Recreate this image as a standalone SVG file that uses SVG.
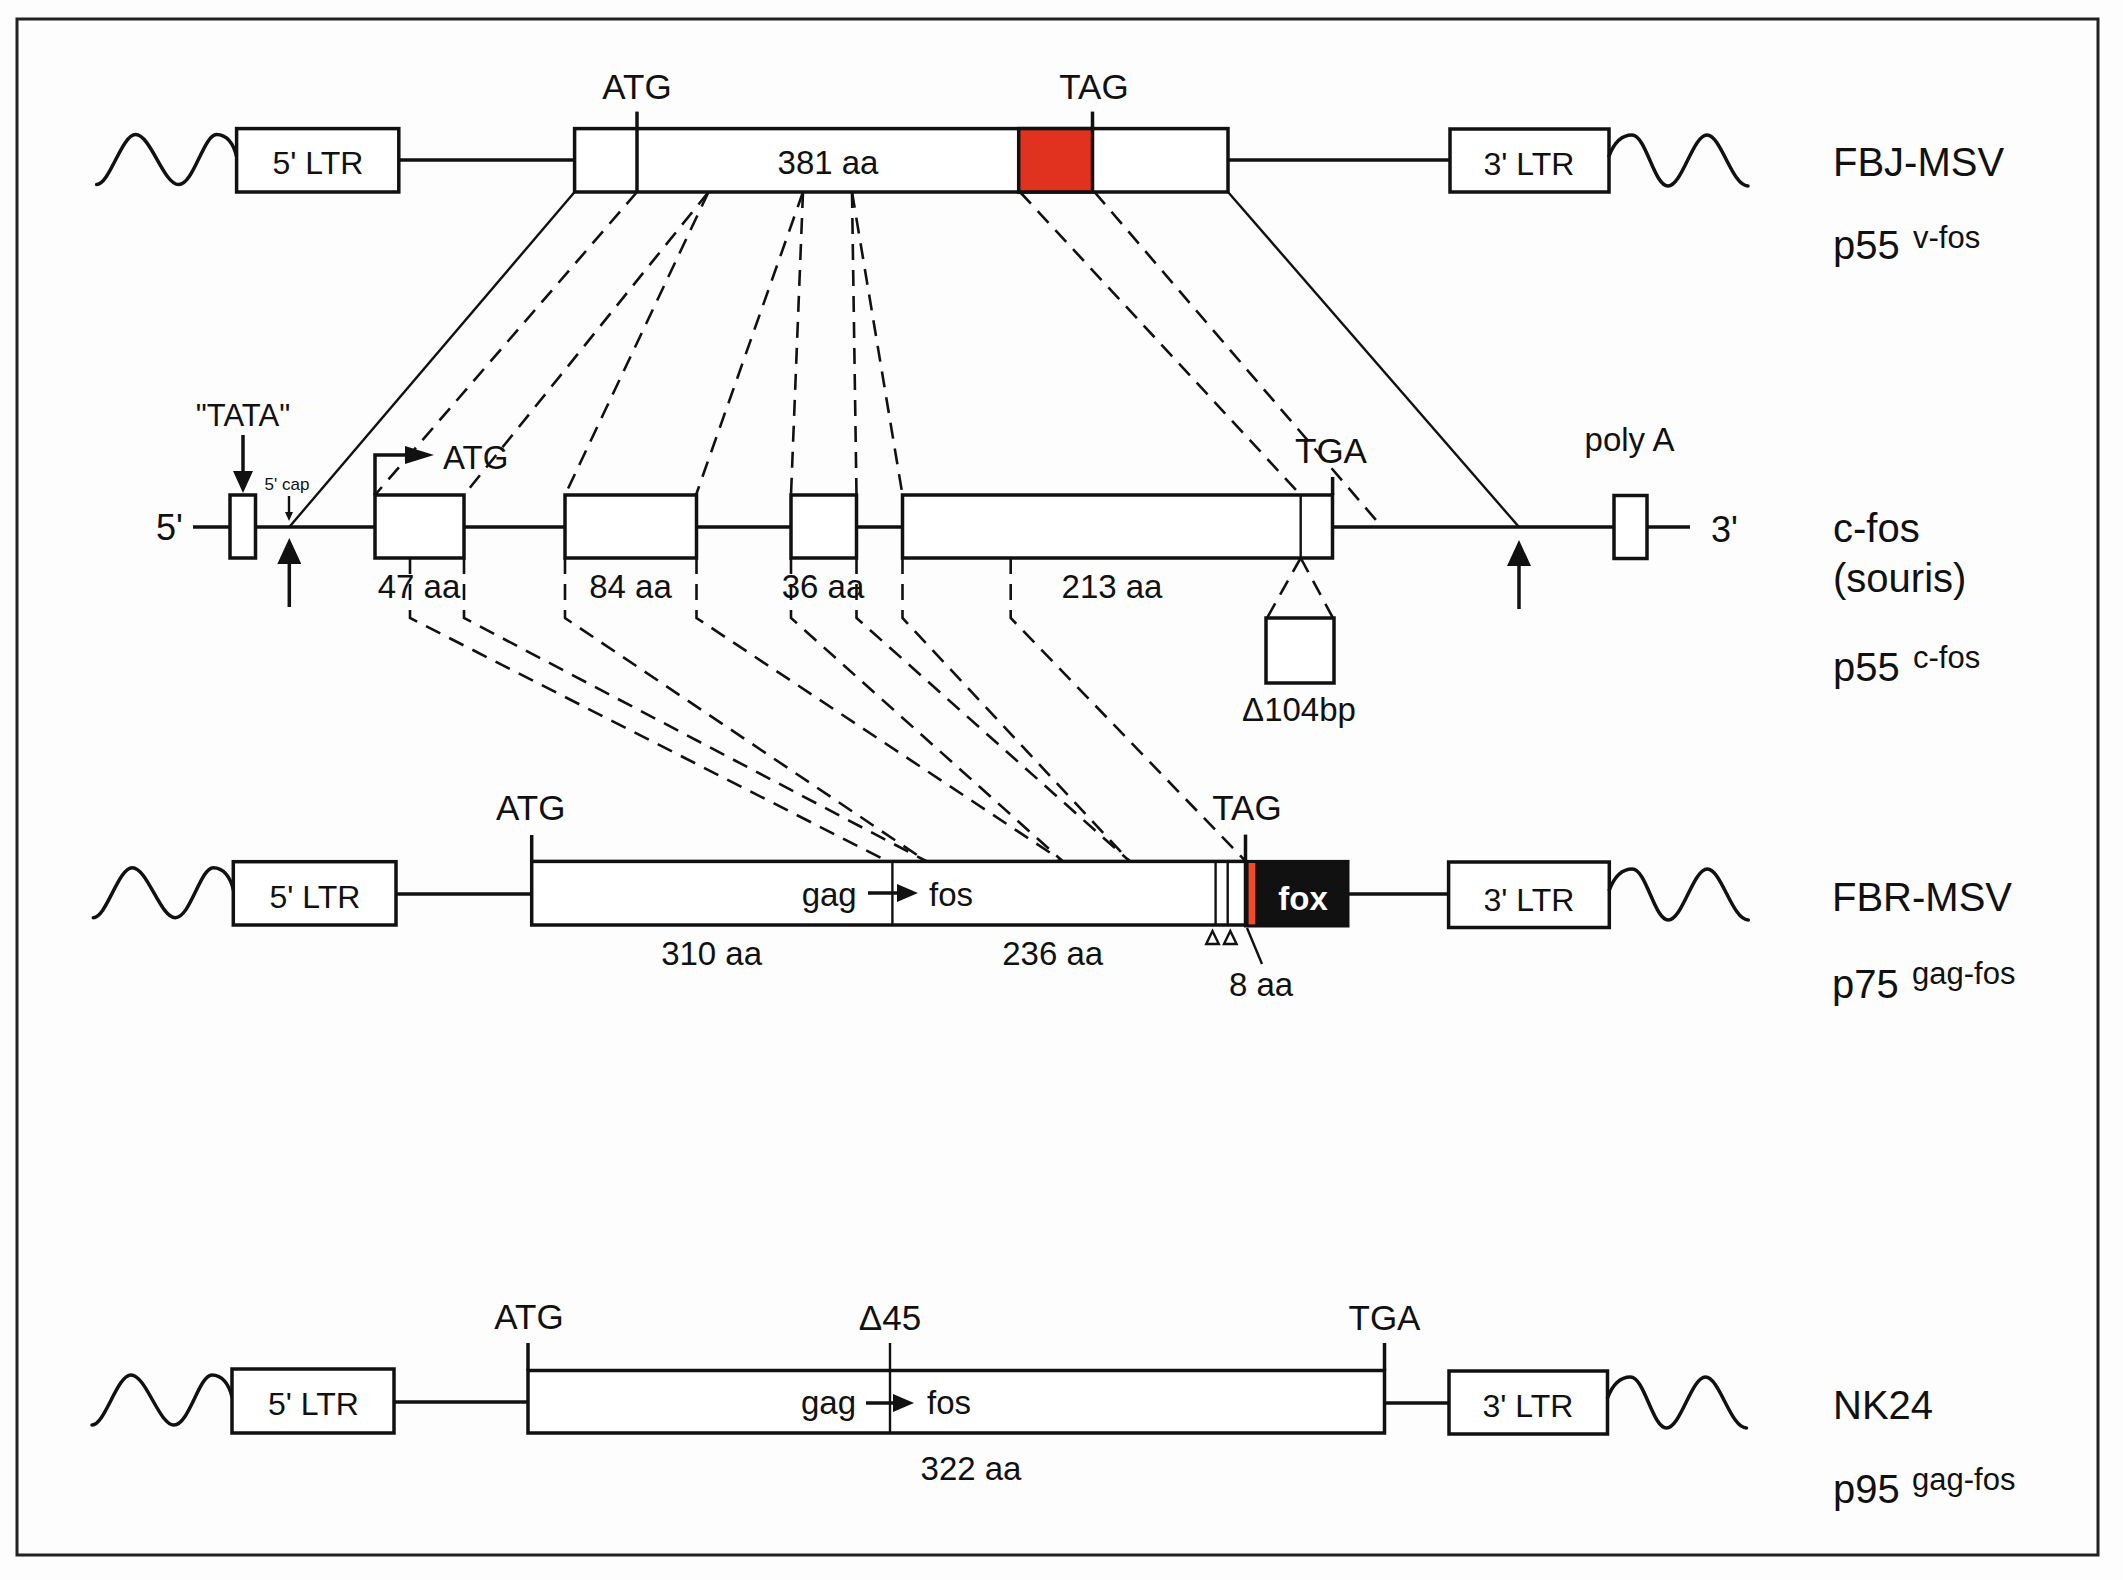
<svg xmlns="http://www.w3.org/2000/svg" width="2123" height="1580" viewBox="0 0 2123 1580">
<style>
.bg{fill:#fdfdfd}
.frame{fill:none;stroke:#222;stroke-width:3}
.ln{stroke:#111;stroke-width:3.5;fill:none}
.thin{stroke:#111;stroke-width:2.4;fill:none}
.box{fill:#fff;stroke:#111;stroke-width:3.5}
.dash{stroke:#111;stroke-width:2.6;stroke-dasharray:16 10;fill:none}
.wave{stroke:#111;stroke-width:3.5;fill:none;stroke-linecap:round}
.t{font-family:"Liberation Sans",Arial,Helvetica,sans-serif;fill:#111}
.m{text-anchor:middle}
.codon{font-size:35px}
.aa{font-size:33px}
.ltr{font-size:32px}
.lab{font-size:40px}
.sup{font-size:31px}
.end{font-size:36px}
</style>
<defs>
<path id="wl" class="wave" d="M-140,56 C-127,56 -115,6 -101,6 C-86,6 -73,56 -58,56 C-43,56 -33,6 -20,6 C-10,6 -3,15 0,28"/>
<path id="wr" class="wave" d="M0,27 C5,14 13,6 23,6 C37,6 45,57 59,57 C73,57 84,6 98,6 C112,6 123,57 139,57"/>
<marker id="big" markerUnits="userSpaceOnUse" markerWidth="26" markerHeight="24" refX="0" refY="12" orient="auto" viewBox="0 0 26 24"><path d="M0,0 L26,12 L0,24 z" fill="#111"/></marker>
<marker id="med" markerUnits="userSpaceOnUse" markerWidth="22" markerHeight="20" refX="0" refY="10" orient="auto" viewBox="0 0 22 20"><path d="M0,0 L22,10 L0,20 z" fill="#111"/></marker>
<marker id="sm" markerUnits="userSpaceOnUse" markerWidth="9" markerHeight="8" refX="0" refY="4" orient="auto" viewBox="0 0 9 8"><path d="M0,0 L9,4 L0,8 z" fill="#111"/></marker>
<marker id="bent" markerUnits="userSpaceOnUse" markerWidth="29" markerHeight="18" refX="0" refY="9" orient="auto" viewBox="0 0 29 18"><path d="M0,0 L29,9 L0,18 z" fill="#111"/></marker>
<marker id="ga" markerUnits="userSpaceOnUse" markerWidth="21" markerHeight="18" refX="0" refY="9" orient="auto" viewBox="0 0 21 18"><path d="M0,0 L21,9 L0,18 z" fill="#111"/></marker>
</defs>
<rect class="bg" x="0" y="0" width="2123" height="1580"/>
<rect class="frame" x="17" y="19" width="2081" height="1536"/>

<g id="connectors">
<line class="thin" x1="574.6" y1="192" x2="289.3" y2="527"/>
<line class="thin" x1="1228" y1="192" x2="1519" y2="527"/>
<line class="dash" x1="637" y1="192" x2="375" y2="495"/>
<line class="dash" x1="708.5" y1="192" x2="464" y2="495"/>
<line class="dash" x1="708.5" y1="192" x2="565" y2="495"/>
<line class="dash" x1="803" y1="192" x2="696" y2="495"/>
<line class="dash" x1="803" y1="192" x2="791" y2="495"/>
<line class="dash" x1="852" y1="192" x2="856.5" y2="495"/>
<line class="dash" x1="852" y1="192" x2="902.5" y2="495"/>
<line class="dash" x1="1020" y1="192" x2="1300.7" y2="495"/>
<line class="dash" x1="1094.5" y1="192" x2="1382" y2="527"/>
<polyline class="dash" points="410,558 410,618 887,861"/>
<polyline class="dash" points="464,558 464,618 926,861"/>
<polyline class="dash" points="565,558 565,618 926,861"/>
<polyline class="dash" points="696.5,558 696.5,618 1062.5,861"/>
<polyline class="dash" points="791,558 791,618 1062.5,861"/>
<polyline class="dash" points="856.5,558 856.5,618 1129.5,861"/>
<polyline class="dash" points="902.5,558 902.5,618 1129.5,861"/>
<polyline class="dash" points="1010.7,558 1010.7,618 1245.5,861"/>
</g>

<g id="fbj">
<use href="#wl" x="236.6" y="128.6"/>
<rect class="box" x="236.6" y="128.6" width="162.2" height="63.4"/>
<text class="t ltr m" x="318" y="173.5">5' LTR</text>
<line class="ln" x1="398.8" y1="160" x2="574.6" y2="160"/>
<rect class="box" x="574.6" y="128.6" width="653.4" height="63.4"/>
<rect x="1018.7" y="128.6" width="73.8" height="63.4" fill="#e0321e" stroke="#111" stroke-width="3.5"/>
<line class="ln" x1="637" y1="111.6" x2="637" y2="192"/>
<line class="ln" x1="1092.5" y1="111.6" x2="1092.5" y2="128.6"/>
<text class="t codon m" x="637" y="99">ATG</text>
<text class="t codon m" x="1094" y="99">TAG</text>
<text class="t aa m" x="828" y="174">381 aa</text>
<line class="ln" x1="1228" y1="160" x2="1450" y2="160"/>
<rect class="box" x="1450" y="129" width="159" height="63"/>
<text class="t ltr m" x="1529" y="175">3' LTR</text>
<use href="#wr" x="1609" y="129"/>
<text class="t lab" x="1833" y="176">FBJ-MSV</text>
<text class="t lab" x="1833" y="259">p55</text>
<text class="t sup" x="1913" y="248">v-fos</text>
</g>

<g id="cfos">
<text class="t end" x="183" y="540" text-anchor="end">5'</text>
<line class="ln" x1="193" y1="527" x2="1690" y2="527"/>
<rect class="box" x="230" y="495" width="25.5" height="63"/>
<rect class="box" x="375" y="495" width="89" height="63"/>
<rect class="box" x="565" y="495" width="131.5" height="63"/>
<rect class="box" x="791" y="495" width="65.5" height="63"/>
<rect class="box" x="902.5" y="495" width="430" height="63"/>
<line class="thin" x1="1300.7" y1="495" x2="1300.7" y2="558"/>
<line class="ln" x1="1332.6" y1="477" x2="1332.6" y2="495"/>
<rect class="box" x="1614" y="495.5" width="33" height="63"/>
<text class="t end" x="1711" y="542">3'</text>
<text class="t" x="243" y="426" font-size="31" text-anchor="middle">"TATA"</text>
<line class="ln" x1="243" y1="435" x2="243" y2="471" marker-end="url(#med)"/>
<text class="t" x="287" y="490" font-size="17" text-anchor="middle">5' cap</text>
<line class="thin" x1="289" y1="496" x2="289" y2="512" stroke-width="2" marker-end="url(#sm)"/>
<line class="ln" x1="289.3" y1="607" x2="289.3" y2="564" marker-end="url(#big)"/>
<line class="ln" x1="1519" y1="609" x2="1519" y2="566" marker-end="url(#big)"/>
<path class="ln" d="M375,495 V455 H405" marker-end="url(#bent)"/>
<text class="t aa" x="443" y="469">ATG</text>
<text class="t codon m" x="1331" y="463">TGA</text>
<text class="t aa m" x="1629.5" y="451">poly A</text>
<text class="t aa m" x="419" y="598">47 aa</text>
<text class="t aa m" x="630.5" y="598">84 aa</text>
<text class="t aa m" x="823" y="598">36 aa</text>
<text class="t aa m" x="1112" y="598">213 aa</text>
<line class="dash" x1="1300.7" y1="558" x2="1267" y2="618"/>
<line class="dash" x1="1300.7" y1="558" x2="1333" y2="618"/>
<rect class="box" x="1266" y="618" width="68" height="65"/>
<text class="t aa m" x="1299" y="721">Δ104bp</text>
<text class="t lab" x="1833" y="542">c-fos</text>
<text class="t lab" x="1833" y="592">(souris)</text>
<text class="t lab" x="1833" y="681">p55</text>
<text class="t sup" x="1913" y="668">c-fos</text>
</g>

<g id="fbr">
<use href="#wl" x="233.3" y="861.7"/>
<rect class="box" x="233.3" y="861.7" width="162.7" height="63.3"/>
<text class="t ltr m" x="315" y="907.7">5' LTR</text>
<line class="ln" x1="396" y1="894" x2="531.7" y2="894"/>
<rect class="box" x="531.7" y="861.4" width="713.8" height="63.6"/>
<line class="ln" x1="531.7" y1="835" x2="531.7" y2="861.4"/>
<line class="thin" x1="892.4" y1="861.4" x2="892.4" y2="925"/>
<text class="t aa" x="856.7" y="906" text-anchor="end">gag</text>
<line class="ln" x1="868" y1="893" x2="897" y2="893" marker-end="url(#ga)"/>
<text class="t aa" x="929" y="906">fos</text>
<line class="thin" x1="1215.6" y1="861.4" x2="1215.6" y2="925"/>
<line class="thin" x1="1227.7" y1="861.4" x2="1227.7" y2="925"/>
<path class="thin" d="M1212.5,931 L1218.8,944 L1206.2,944 Z"/>
<path class="thin" d="M1230.3,931 L1236.6,944 L1224,944 Z"/>
<rect x="1245.5" y="861.4" width="102.5" height="64.6" fill="#111" stroke="#111" stroke-width="3"/>
<rect x="1248.6" y="863" width="6.7" height="61.4" fill="#f04a28"/>
<line class="ln" x1="1245.5" y1="834.6" x2="1245.5" y2="861.4"/>
<text class="t m" x="1303" y="909.6" font-size="33" font-weight="bold" fill="#fff" style="fill:#fff">fox</text>
<line class="ln" x1="1348" y1="894" x2="1448.6" y2="894"/>
<rect class="box" x="1448.6" y="862" width="160.7" height="65.5"/>
<text class="t ltr m" x="1529" y="910.5">3' LTR</text>
<use href="#wr" x="1609.3" y="863"/>
<text class="t codon m" x="530.8" y="820">ATG</text>
<text class="t codon m" x="1247" y="820">TAG</text>
<text class="t aa m" x="711.6" y="965">310 aa</text>
<text class="t aa m" x="1052.7" y="965">236 aa</text>
<line class="thin" x1="1247" y1="928" x2="1262" y2="964"/>
<text class="t aa m" x="1261" y="996">8 aa</text>
<text class="t lab" x="1832" y="910.7">FBR-MSV</text>
<text class="t lab" x="1832" y="998">p75</text>
<text class="t sup" x="1912" y="984">gag-fos</text>
</g>

<g id="nk24">
<use href="#wl" x="232" y="1369"/>
<rect class="box" x="232" y="1369" width="162" height="64"/>
<text class="t ltr m" x="313.5" y="1415">5' LTR</text>
<line class="ln" x1="394" y1="1402" x2="528" y2="1402"/>
<rect class="box" x="528" y="1370.5" width="856.5" height="62.5"/>
<line class="ln" x1="528" y1="1343" x2="528" y2="1370.5"/>
<line class="ln" x1="1384.5" y1="1343" x2="1384.5" y2="1370.5"/>
<line class="thin" x1="890" y1="1343" x2="890" y2="1433"/>
<text class="t codon m" x="529" y="1329">ATG</text>
<text class="t codon m" x="890" y="1330">Δ45</text>
<text class="t codon m" x="1384.5" y="1330">TGA</text>
<text class="t aa" x="856" y="1414" text-anchor="end">gag</text>
<line class="ln" x1="866" y1="1403" x2="893" y2="1403" marker-end="url(#ga)"/>
<text class="t aa" x="927" y="1414">fos</text>
<text class="t aa m" x="971" y="1480">322 aa</text>
<line class="ln" x1="1384.5" y1="1403" x2="1449" y2="1403"/>
<rect class="box" x="1449" y="1371" width="158.5" height="63"/>
<text class="t ltr m" x="1528" y="1417">3' LTR</text>
<use href="#wr" x="1607.5" y="1371"/>
<text class="t lab" x="1833" y="1419">NK24</text>
<text class="t lab" x="1833" y="1503">p95</text>
<text class="t sup" x="1912" y="1490">gag-fos</text>
</g>
</svg>
